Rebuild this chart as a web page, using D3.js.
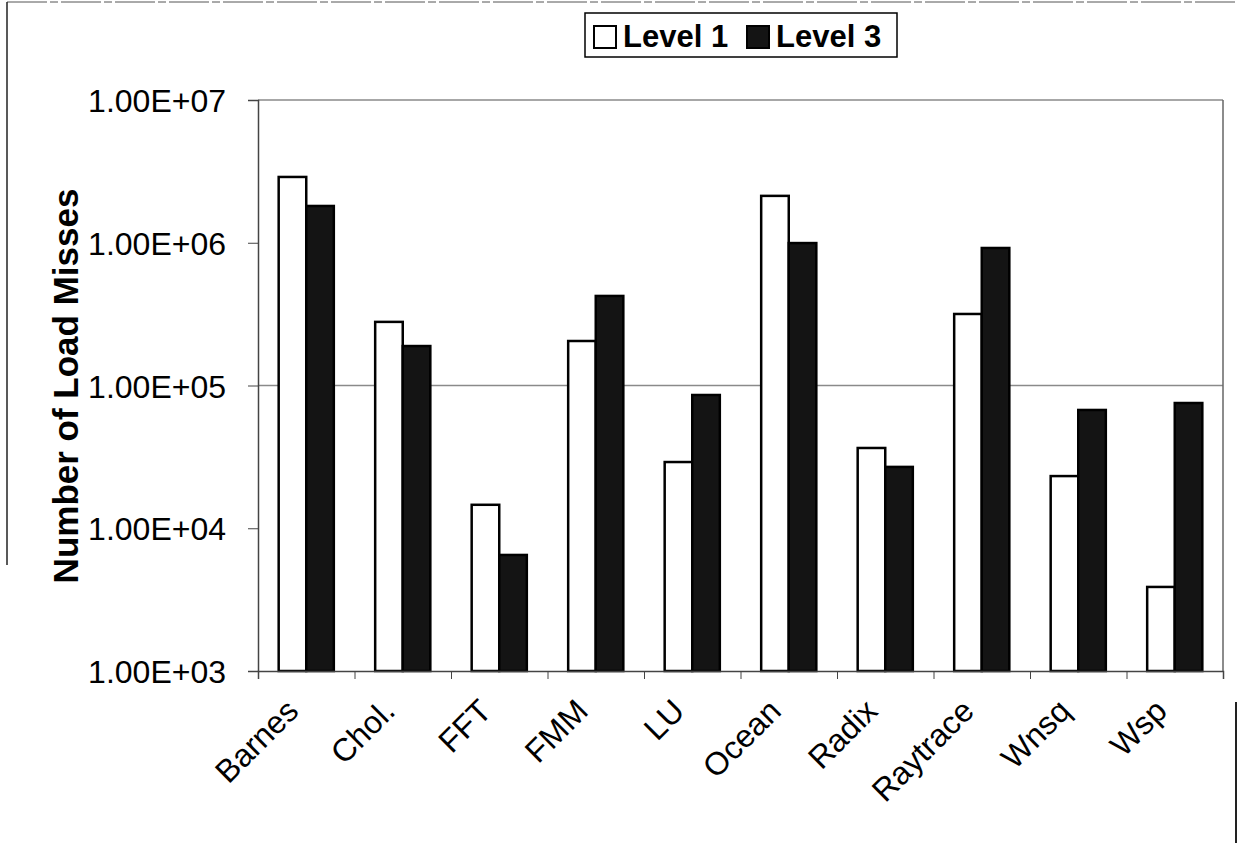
<!DOCTYPE html>
<html lang="en">
<head>
    <meta charset="UTF-8">
    <title>Load misses</title>
    <script src="https://cdnjs.cloudflare.com/ajax/libs/d3/7.8.5/d3.min.js"></script>
    <style>
        body { margin: 0; background: #fff; }
        text { font-family: "Liberation Sans", Arial, Helvetica, sans-serif; fill: #000; }
    </style>
</head>
<body>
    <div id="chart"></div>

    <script>
        // values
        var apps = ["Barnes", "Chol.", "FFT", "FMM", "LU", "Ocean", "Radix", "Raytrace", "Wnsq", "Wsp"];
        var level1 = [2.89e6, 2.79e5, 1.46e4, 2.05e5, 2.91e4, 2.13e6, 3.65e4, 3.17e5, 2.32e4, 3.88e3];
        var level3 = [1.81e6, 1.89e5, 6.5e3, 4.24e5, 8.58e4, 9.95e5, 2.69e4, 9.19e5, 6.74e4, 7.54e4];
        var seriesNames = ["Level 1", "Level 3"];
        var yTicks = [1e3, 1e4, 1e5, 1e6, 1e7];
        var yTickLabels = ["1.00E+03", "1.00E+04", "1.00E+05", "1.00E+06", "1.00E+07"];
        var gridVals = [1e5, 1e7];

        var width = 1238,
            height = 843;
        // plot area (don't call it "top", that's window.top)
        var pLeft = 258, pRight = 1223, pTop = 100, pBottom = 671;

        var svg = d3.select("#chart")
            .append("svg")
            .attr("width", width)
            .attr("height", height);

        // bits of the chart-area border that survived the scan
        svg.append("line").attr("x1", 7).attr("x2", 1237).attr("y1", 2).attr("y2", 2)
            .attr("stroke", "#555").attr("stroke-dasharray", "40,3,8,3");
        svg.append("line").attr("x1", 7).attr("x2", 7).attr("y1", 2).attr("y2", 565)
            .attr("stroke", "#222").attr("stroke-width", 1.5);
        svg.append("line").attr("x1", 1236).attr("x2", 1236).attr("y1", 702).attr("y2", 843)
            .attr("stroke", "#222").attr("stroke-width", 2);

        var y = d3.scaleLog().domain([1e3, 1e7]).range([pBottom, pTop]);

        // excel style: gap width 150% of a bar
        var x = d3.scaleBand().domain(apps).range([pLeft, pRight])
            .paddingInner(1.5 / 3.5).paddingOuter(0.75 / 3.5);
        var xs = d3.scaleBand().domain(seriesNames).range([0, x.bandwidth()]);
        var idx = d3.scaleLinear().domain([0, apps.length]).range([pLeft, pRight]);

        // gridlines
        svg.append("g").selectAll("line")
            .data(gridVals)
            .enter().append("line")
            .attr("x1", pLeft).attr("x2", pRight)
            .attr("y1", function(d) { return y(d); })
            .attr("y2", function(d) { return y(d); })
            .attr("stroke", "#8a8a8a")
            .attr("stroke-width", 1.5);

        // right edge of plot area
        svg.append("line").attr("x1", pRight).attr("x2", pRight).attr("y1", pTop).attr("y2", pBottom)
            .attr("stroke", "#666").attr("stroke-width", 1.5);

        var rows = apps.map(function(a, i) {
            return { app: a, vals: [level1[i], level3[i]] };
        });

        var groups = svg.selectAll(".grp")
            .data(rows)
            .enter().append("g")
            .attr("class", "grp")
            .attr("transform", function(d) { return "translate(" + x(d.app) + ",0)"; });

        groups.selectAll("rect")
            .data(function(d) { return d.vals.map(function(v, j) { return { s: seriesNames[j], v: v }; }); })
            .enter().append("rect")
            .attr("x", function(d) { return xs(d.s); })
            .attr("width", xs.bandwidth())
            .attr("y", function(d) { return y(d.v); })
            .attr("height", function(d) { return pBottom - y(d.v); })
            .attr("fill", function(d) { return d.s == "Level 1" ? "#fff" : "#141414"; })
            .attr("stroke", "#000")
            .attr("stroke-width", 2.5);

        // y axis
        var yAxis = svg.append("g")
            .attr("transform", "translate(" + pLeft + ",0)")
            .call(d3.axisLeft(y).tickValues(yTicks)
                .tickFormat(function(d, i) { return yTickLabels[i]; })
                .tickSize(10).tickPadding(22));
        yAxis.select(".domain").attr("stroke", "#444").attr("stroke-width", 1.5);
        yAxis.selectAll(".tick line").attr("stroke", "#444");
        yAxis.selectAll("text")
            .style("font-size", "32px")
            .attr("dy", "0.36em");

        // x axis, ticks between categories
        var xAxis = svg.append("g")
            .attr("transform", "translate(0," + pBottom + ")")
            .call(d3.axisBottom(idx).ticks(apps.length).tickSize(8).tickFormat(""));
        xAxis.select(".domain").attr("stroke", "#444").attr("stroke-width", 1.5);
        xAxis.selectAll(".tick line").attr("stroke", "#444");

        svg.append("g").selectAll("text")
            .data(apps)
            .enter().append("text")
            .attr("transform", function(d) {
                return "translate(" + (x(d) + x.bandwidth() / 2 - 6) + "," + (pBottom + 42) + ") rotate(-45)";
            })
            .attr("text-anchor", "end")
            .style("font-size", "32px")
            .text(function(d) { return d; });

        // y title
        svg.append("text")
            .attr("transform", "translate(78,386) rotate(-90)")
            .attr("text-anchor", "middle")
            .style("font-size", "35px")
            .style("font-weight", "bold")
            .text("Number of Load Misses");

        // legend
        var lg = svg.append("g");
        lg.append("rect").attr("x", 585).attr("y", 13).attr("width", 312).attr("height", 44)
            .attr("fill", "#fff").attr("stroke", "#000").attr("stroke-width", 1.5);
        var lx = [594, 747];
        var items = lg.selectAll(".item")
            .data(seriesNames)
            .enter().append("g")
            .attr("transform", function(d, i) { return "translate(" + lx[i] + ",0)"; });
        items.append("rect")
            .attr("x", 0).attr("y", 26).attr("width", 22).attr("height", 22)
            .attr("fill", function(d, i) { return i == 0 ? "#fff" : "#141414"; })
            .attr("stroke", "#000").attr("stroke-width", 2);
        items.append("text")
            .attr("x", 29).attr("y", 47)
            .style("font-size", "31px")
            .style("font-weight", "bold")
            .text(function(d) { return d; });
    </script>
</body>
</html>
